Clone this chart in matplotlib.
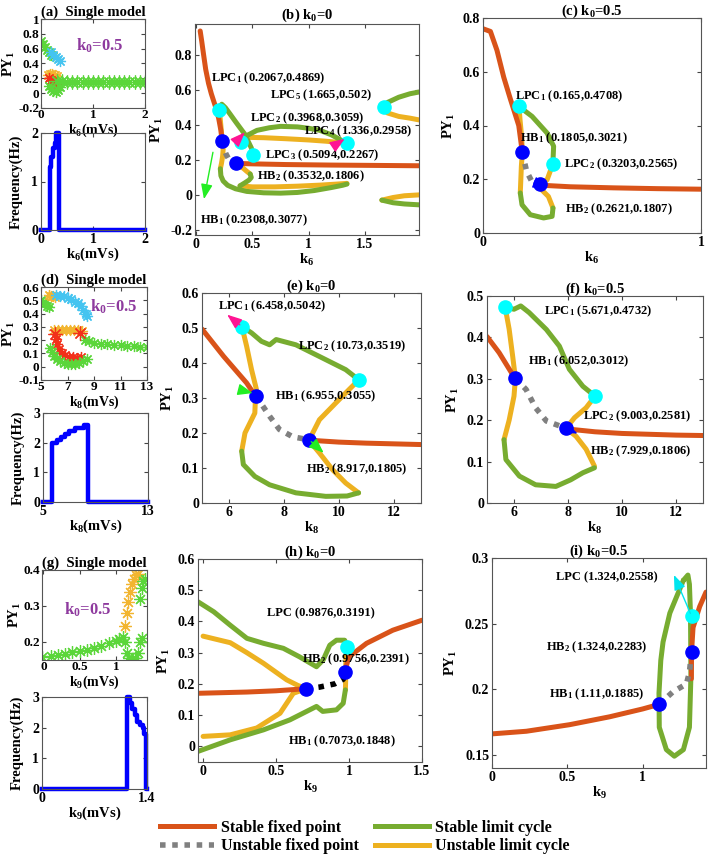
import matplotlib
matplotlib.use('Agg')
import matplotlib.pyplot as plt
from matplotlib.lines import Line2D

plt.rcParams['font.family'] = ['Liberation Serif', 'DejaVu Serif']
plt.rcParams['font.weight'] = 'bold'
plt.rcParams['mathtext.fontset'] = 'custom'
plt.rcParams['mathtext.rm'] = 'Liberation Serif:bold'
plt.rcParams['mathtext.it'] = 'Liberation Serif:bold'
plt.rcParams['mathtext.bf'] = 'Liberation Serif:bold'
plt.rcParams['axes.labelweight'] = 'bold'
plt.rcParams['axes.titleweight'] = 'bold'

SFP = '#D95319'   # stable fixed point
SLC = '#77AC30'   # stable limit cycle
ULC = '#EDB120'   # unstable limit cycle
UFP = '#808080'   # unstable fixed point
PURPLE = '#8E3A9E'
S_GRN, S_CYN, S_YEL, S_RED = '#5BD63A', '#45C4F0', '#F2B530', '#F2301A'

# ---------------------------------------------------------------- (a) single model, k6
a_grn_up = ([0.0, 0.04, 0.08, 0.12, 0.16, 0.2, 0.24], [0.70, 0.66, 0.62, 0.58, 0.55, 0.52, 0.50])
a_cyan = ([0.2, 0.24, 0.28, 0.32, 0.36], [0.56, 0.52, 0.49, 0.46, 0.44])
a_yel = ([0.14, 0.18, 0.22, 0.26, 0.3], [0.24, 0.26, 0.26, 0.25, 0.23])
a_red = ([0.15, 0.19, 0.23, 0.27, 0.31], [0.20, 0.18, 0.16, 0.14, 0.12])
a_grn_low = ([0.16, 0.2, 0.24, 0.28, 0.32, 0.36], [0.10, 0.06, 0.03, 0.02, 0.04, 0.08])
a_band_x = [0.3, 0.4, 0.5, 0.6, 0.7, 0.8, 0.9, 1.0, 1.1, 1.2, 1.3, 1.4, 1.5, 1.6, 1.7, 1.8, 1.9, 2.0]
a_band_y = [0.16, 0.16, 0.155, 0.155, 0.155, 0.15, 0.15, 0.15, 0.15, 0.15, 0.15, 0.145, 0.145, 0.145, 0.145, 0.145, 0.145, 0.145]
a_freq_k = [0, 0.17, 0.2, 0.23, 0.26, 0.28, 0.34, 2.0]
a_freq = [0, 1.3, 1.5, 1.7, 1.8, 2.0, 0, 0]

# ---------------------------------------------------------------- (b) k0=0, k6
b_sfp_1 = ([0.036, 0.05, 0.065, 0.085, 0.11, 0.135, 0.155, 0.18, 0.2, 0.22, 0.2308],
           [0.94, 0.88, 0.81, 0.72, 0.64, 0.58, 0.54, 0.49, 0.44, 0.37, 0.3077])
b_sfp_2 = ([0.3532, 0.5, 0.8, 1.2, 1.6, 1.98], [0.1806, 0.178, 0.174, 0.171, 0.169, 0.167])
b_ufp = ([0.2308, 0.245, 0.265, 0.29, 0.32, 0.3532], [0.3077, 0.27, 0.235, 0.205, 0.188, 0.1806])
b_ulc = [
    ([0.2067, 0.215, 0.225, 0.2308], [0.4869, 0.43, 0.36, 0.3077]),
    ([0.2308, 0.24, 0.235, 0.225, 0.215], [0.3077, 0.26, 0.22, 0.18, 0.15]),
    ([0.39, 0.5, 0.7, 0.9, 1.1, 1.25, 1.34], [0.052, 0.046, 0.046, 0.05, 0.056, 0.062, 0.066]),
    ([0.3532, 0.38, 0.42, 0.45, 0.48], [0.1806, 0.168, 0.152, 0.135, 0.12]),
    ([0.3968, 0.45, 0.6, 0.8, 1.0, 1.15, 1.25, 1.336], [0.3059, 0.33, 0.328, 0.322, 0.315, 0.308, 0.302, 0.2958]),
    ([1.665, 1.7, 1.8, 1.9, 1.98], [0.502, 0.47, 0.45, 0.44, 0.43]),
    ([1.65, 1.75, 1.85, 1.98], [-0.03, -0.015, -0.005, 0.0]),
]
b_slc = [
    ([0.2067, 0.215, 0.228, 0.26, 0.3, 0.35, 0.39, 0.43, 0.46, 0.49, 0.5094],
     [0.4869, 0.51, 0.52, 0.5, 0.465, 0.42, 0.385, 0.35, 0.31, 0.27, 0.2267]),
    ([0.215, 0.22, 0.24, 0.28, 0.35, 0.45, 0.6, 0.75, 0.9, 1.05, 1.2, 1.3, 1.34],
     [0.15, 0.11, 0.08, 0.055, 0.035, 0.02, 0.012, 0.01, 0.014, 0.025, 0.042, 0.055, 0.062]),
    ([0.48, 0.49, 0.47, 0.43, 0.39], [0.12, 0.1, 0.085, 0.068, 0.052]),
    ([0.3968, 0.45, 0.54, 0.65, 0.75, 0.9, 1.0, 1.1, 1.2, 1.3, 1.336],
     [0.3059, 0.34, 0.37, 0.385, 0.393, 0.39, 0.382, 0.37, 0.345, 0.31, 0.2958]),
    ([1.665, 1.7, 1.8, 1.9, 1.98], [0.502, 0.53, 0.56, 0.58, 0.59]),
    ([1.65, 1.75, 1.85, 1.98], [-0.03, -0.045, -0.052, -0.057]),
]
b_hb = ([0.2308, 0.3532], [0.3077, 0.1806])
b_lpc = ([0.2067, 0.3968, 0.5094, 1.336, 1.665], [0.4869, 0.3059, 0.2267, 0.2958, 0.502])
b_labels = [('LPC$_1$ (0.2067,0.4869)', 0.13, 0.667), ('LPC$_5$ (1.665,0.502)', 0.657, 0.571),
            ('LPC$_2$ (0.3968,0.3059)', 0.479, 0.438), ('LPC$_4$ (1.336,0.2958)', 0.959, 0.362),
            ('LPC$_3$ (0.5094,0.2267)', 0.612, 0.229), ('HB$_2$ (0.3532,0.1806)', 0.538, 0.105),
            ('HB$_1$ (0.2308,0.3077)', 0.036, -0.143)]

# ---------------------------------------------------------------- (c) k0=0.5, k6
c_sfp_1 = ([0, 0.034, 0.064, 0.095, 0.125, 0.164, 0.18], [0.76, 0.75, 0.68, 0.58, 0.5, 0.40, 0.3021])
c_sfp_2 = ([0.2621, 0.4, 0.6, 0.8, 1.0], [0.178, 0.172, 0.168, 0.165, 0.163])
c_ufp = ([0.1805, 0.19, 0.2, 0.225, 0.2621], [0.3021, 0.265, 0.23, 0.19, 0.1807])
c_ulc = [
    ([0.165, 0.17, 0.177, 0.1805, 0.176, 0.171], [0.4708, 0.42, 0.36, 0.3021, 0.248, 0.149]),
    ([0.321, 0.30, 0.27, 0.2621], [0.093, 0.136, 0.16, 0.1807]),
    ([0.2621, 0.294, 0.3203], [0.1807, 0.198, 0.2565]),
]
c_slc = [
    ([0.171, 0.179, 0.217, 0.278, 0.317, 0.321], [0.149, 0.105, 0.068, 0.056, 0.062, 0.093]),
    ([0.3203, 0.324, 0.294, 0.225, 0.165], [0.2565, 0.323, 0.372, 0.434, 0.4708]),
]
c_hb = ([0.1805, 0.2621], [0.3021, 0.1807])
c_lpc = ([0.165, 0.3203], [0.4708, 0.2565])
c_labels = [('LPC$_1$ (0.165,0.4708)', 0.148, 0.509), ('HB$_1$ (0.1805,0.3021)', 0.171, 0.354),
            ('LPC$_2$ (0.3203,0.2565)', 0.37, 0.254), ('HB$_2$ (0.2621,0.1807)', 0.378, 0.087)]

# ---------------------------------------------------------------- (d) single model, k8
d_grn_up = ([5.0, 5.15, 5.3, 5.45, 5.6], [0.50, 0.49, 0.48, 0.46, 0.45])
d_yel_up = ([5.6, 5.75, 5.9, 6.05], [0.54, 0.535, 0.53, 0.525])
d_cyan = ([6.1, 6.4, 6.7, 7.0, 7.3, 7.6, 7.8, 8.0, 8.2, 8.4, 8.5], [0.54, 0.535, 0.53, 0.52, 0.51, 0.49, 0.48, 0.455, 0.43, 0.40, 0.38])
d_yel_mid = ([6.0, 6.3, 6.6, 6.9, 7.2, 7.5, 7.8, 8.1], [0.275, 0.28, 0.28, 0.28, 0.28, 0.28, 0.275, 0.27])
d_red_pts = ([6.05, 7.95], [0.245, 0.255])
d_red_low = ([6.1, 6.2, 6.35, 6.55, 6.8, 7.1, 7.4, 7.7, 8.0], [0.21, 0.17, 0.13, 0.10, 0.085, 0.075, 0.07, 0.068, 0.07])
d_grn_low = ([5.7, 5.85, 6.0, 6.2, 6.4, 6.7, 7.0, 7.3, 7.6, 7.9, 8.2, 8.5], [0.14, 0.11, 0.08, 0.06, 0.04, 0.03, 0.02, 0.02, 0.02, 0.03, 0.04, 0.06])
d_grn_right = ([8.3, 8.6, 9.0, 9.5, 10.0, 10.5, 11.0, 11.5, 12.0, 12.5, 13.0], [0.2, 0.19, 0.18, 0.172, 0.168, 0.164, 0.16, 0.158, 0.155, 0.152, 0.15])
d_freq_k = [5, 5.7, 6.1, 6.4, 6.7, 7.0, 7.4, 8.1, 8.4, 13]
d_freq = [0, 2.0, 2.1, 2.2, 2.3, 2.4, 2.5, 2.6, 0, 0]

# ---------------------------------------------------------------- (e) k0=0, k8
e_sfp_1 = ([5, 5.79, 6.63, 6.955], [0.497, 0.419, 0.343, 0.3055])
e_sfp_2 = ([8.917, 9.2, 10, 11, 12, 13], [0.1805, 0.178, 0.174, 0.171, 0.169, 0.167])
e_ufp = ([6.955, 7.11, 7.47, 7.83, 8.32, 8.917], [0.3055, 0.29, 0.248, 0.21, 0.189, 0.1805])
e_ulc = [
    ([6.458, 6.63, 6.81, 6.99, 6.955, 6.93, 6.57, 6.45], [0.5042, 0.448, 0.381, 0.324, 0.3055, 0.257, 0.2, 0.148]),
    ([10.72, 10.25, 9.77, 9.29, 8.99, 8.917], [0.029, 0.057, 0.095, 0.143, 0.171, 0.1805]),
    ([8.917, 9.29, 9.89, 10.37, 10.73], [0.1805, 0.238, 0.286, 0.324, 0.3519]),
]
e_slc = [
    ([6.45, 6.51, 6.93, 7.47, 8.43, 9.52, 10.3, 10.72], [0.148, 0.11, 0.076, 0.052, 0.029, 0.019, 0.02, 0.029]),
    ([10.73, 10.25, 9.28, 8.43, 7.71, 7.47, 7.17, 6.81, 6.458], [0.3519, 0.381, 0.419, 0.452, 0.467, 0.452, 0.462, 0.486, 0.5042]),
]
e_hb = ([6.955, 8.917], [0.3055, 0.1805])
e_lpc = ([6.458, 10.73], [0.5042, 0.3519])
e_labels = [('LPC$_1$ (6.458,0.5042)', 5.6, 0.562), ('LPC$_2$ (10.73,0.3519)', 8.5, 0.448),
            ('HB$_1$ (6.955,0.3055)', 7.65, 0.305), ('HB$_2$ (8.917,0.1805)', 8.8, 0.095)]

# ---------------------------------------------------------------- (f) k0=0.5, k8
f_sfp_1 = ([5, 5.45, 5.95, 6.052], [0.402, 0.363, 0.31, 0.3012])
f_sfp_2 = ([7.929, 8.1, 9, 10, 11, 12, 13], [0.1806, 0.178, 0.172, 0.168, 0.166, 0.164, 0.163])
f_ufp = ([6.052, 6.45, 6.8, 7.2, 7.7, 7.929], [0.3012, 0.274, 0.23, 0.198, 0.186, 0.1806])
f_ulc = [
    ([5.671, 5.82, 5.95, 6.052, 6.0, 5.82, 5.63], [0.4732, 0.42, 0.355, 0.3012, 0.258, 0.2, 0.153]),
    ([8.98, 8.67, 8.3, 7.929], [0.089, 0.13, 0.161, 0.1806]),
    ([7.929, 8.24, 8.67, 9.003], [0.1806, 0.206, 0.23, 0.2581]),
]
f_slc = [
    ([5.63, 5.7, 6.2, 6.8, 7.55, 8.1, 8.55, 8.98], [0.153, 0.105, 0.065, 0.044, 0.04, 0.056, 0.073, 0.085]),
    ([9.003, 8.55, 8.05, 7.68, 7.2, 6.56, 6.25, 6.0, 5.671], [0.2581, 0.282, 0.323, 0.379, 0.419, 0.46, 0.476, 0.468, 0.4732]),
]
f_hb = ([6.052, 7.929], [0.3012, 0.1806])
f_lpc = ([5.671, 9.003], [0.4732, 0.2581])
f_labels = [('LPC$_1$ (5.671,0.4732)', 7.1, 0.464), ('HB$_1$ (6.052,0.3012)', 6.5, 0.343),
            ('LPC$_2$ (9.003,0.2581)', 8.55, 0.21), ('HB$_2$ (7.929,0.1806)', 8.8, 0.125)]

# ---------------------------------------------------------------- (g) single model, k9
g_grn = ([-0.02, 0.1, 0.2, 0.3, 0.4, 0.5, 0.6, 0.7, 0.8, 0.9, 1.0, 1.05, 1.1],
         [0.158, 0.161, 0.164, 0.167, 0.171, 0.175, 0.179, 0.184, 0.19, 0.196, 0.204, 0.209, 0.215])
g_grn_dip = ([1.12, 1.15, 1.18, 1.22, 1.27, 1.3, 1.33, 1.36], [0.2, 0.17, 0.155, 0.152, 0.155, 0.17, 0.2, 0.21])
g_yel = ([1.13, 1.15, 1.17, 1.19, 1.22, 1.25, 1.28, 1.31], [0.245, 0.28, 0.31, 0.34, 0.36, 0.375, 0.385, 0.39])
g_grn_up = ([1.34, 1.36, 1.38, 1.4], [0.32, 0.35, 0.37, 0.375])
g_freq_k = [0, 1.14, 1.17, 1.2, 1.24, 1.27, 1.31, 1.34, 1.36, 1.38, 1.4]
g_freq = [0, 3.0, 2.8, 2.6, 2.4, 2.2, 2.1, 2.0, 1.8, 0, 0]

# ---------------------------------------------------------------- (h) k0=0, k9
h_sfp_1 = ([-0.035, 0.3, 0.5, 0.7073], [0.17, 0.174, 0.178, 0.1848])
h_sfp_2 = ([0.9756, 0.98, 1.0, 1.12, 1.3, 1.5], [0.2391, 0.255, 0.287, 0.33, 0.372, 0.404])
h_ufp = ([0.7073, 0.8, 0.9, 0.96, 0.9756], [0.1848, 0.19, 0.2, 0.215, 0.2391])
h_ulc = [
    ([0, 0.186, 0.3, 0.414, 0.573, 0.65, 0.7073], [0.353, 0.332, 0.3, 0.266, 0.213, 0.195, 0.1848]),
    ([0.7073, 0.618, 0.527, 0.368, 0.186, 0], [0.1848, 0.17, 0.106, 0.059, 0.037, 0.032]),
    ([0.975, 0.977, 0.9756, 0.98, 0.9876], [0.181, 0.213, 0.2391, 0.29, 0.3191]),
]
h_slc = [
    ([-0.035, 0.073, 0.186, 0.3, 0.414, 0.55, 0.66, 0.777, 0.823, 0.868, 0.914, 0.97, 0.9876],
     [0.463, 0.431, 0.388, 0.346, 0.33, 0.314, 0.287, 0.255, 0.277, 0.324, 0.34, 0.34, 0.3191]),
    ([-0.035, 0.186, 0.414, 0.595, 0.777, 0.82, 0.914, 0.96, 0.975],
     [-0.016, 0.021, 0.053, 0.085, 0.128, 0.112, 0.117, 0.138, 0.181]),
]
h_hb = ([0.7073, 0.9756], [0.1848, 0.2391])
h_lpc = ([0.9876], [0.3191])
h_labels = [('LPC (0.9876,0.3191)', 0.436, 0.426), ('HB$_2$ (0.9756,0.2391)', 0.675, 0.28),
            ('HB$_1$ (0.7073,0.1848)', 0.584, 0.016)]

# ---------------------------------------------------------------- (i) k0=0.5, k9
i_sfp_1 = ([0, 0.228, 0.515, 0.78, 1.0, 1.11], [0.166, 0.168, 0.173, 0.179, 0.185, 0.1885])
i_sfp_2 = ([1.323, 1.324, 1.334, 1.378, 1.42], [0.208, 0.2283, 0.247, 0.263, 0.274])
i_ufp = ([1.11, 1.2, 1.29, 1.31, 1.324], [0.1885, 0.198, 0.204, 0.213, 0.2283])
i_slc = ([1.27, 1.3, 1.31, 1.317, 1.32, 1.31, 1.27, 1.21, 1.157, 1.11, 1.108, 1.12, 1.135, 1.18, 1.27],
         [0.283, 0.287, 0.28, 0.258, 0.21, 0.171, 0.154, 0.149, 0.154, 0.171, 0.197, 0.222, 0.236, 0.258, 0.283])
i_hb = ([1.11, 1.324], [0.1885, 0.2283])
i_lpc = ([1.324], [0.2558])
i_labels = [('LPC (1.324,0.2558)', 0.427, 0.285), ('HB$_2$ (1.324,0.2283)', 0.36, 0.232),
            ('HB$_1$ (1.11,0.1885)', 0.378, 0.196)]


def fmt(ax, xlim, ylim, xt, yt, pad=2, size=10):
    ax.set_xlim(*xlim)
    ax.set_ylim(*ylim)
    ax.set_xticks(xt, labels=[f'{v:g}' for v in xt])
    ax.set_yticks(yt, labels=[f'{v:g}' for v in yt])
    ax.tick_params(direction='in', top=True, right=True, labelsize=size, length=3, pad=pad, color='#444444')
    for s in ax.spines.values():
        s.set_color('#555555')
        s.set_linewidth(0.8)


def line(ax, xy, c, lw=3.6):
    ax.plot(xy[0], xy[1], color=c, lw=lw, solid_capstyle='round', solid_joinstyle='round')


def dots(ax, xy, c=UFP):
    ax.plot(xy[0], xy[1], color=c, lw=4, linestyle=(0, (1, 1.2)), dash_capstyle='butt')


def bif(ax, sfp, ufp, ulc, slc, hb, lpc, labels, ufp_c=UFP):
    for s in ulc:
        line(ax, s, ULC)
    for s in slc:
        line(ax, s, SLC)
    for s in sfp:
        line(ax, s, SFP)
    dots(ax, ufp, ufp_c)
    ax.plot(hb[0], hb[1], 'o', color='#0000FF', ms=9.5, zorder=5)
    ax.plot(lpc[0], lpc[1], 'o', color='#00FFFF', ms=9.5, zorder=5)
    for txt, x, y in labels:
        ax.text(x, y, txt, fontsize=9, va='center', zorder=6)


def arrow(ax, tail, head, c):
    ax.annotate('', xy=head, xytext=tail, zorder=7,
                arrowprops=dict(arrowstyle='-|>,head_length=0.9,head_width=0.35', color=c, lw=1.0))


def stars(ax, xy, c, ms=8):
    ax.plot(xy[0], xy[1], linestyle='none', marker=(8, 2, 0), color=c, ms=ms, mew=0.9)


fig = plt.figure(figsize=(7.08, 8.58), dpi=100)
W, H = 708, 858


def box(x0, y0, x1, y1):
    return fig.add_axes([x0 / W, 1 - y1 / H, (x1 - x0) / W, (y1 - y0) / H])


def freq_box(x0, y0, x1, y1):
    a = box(x0, y0, x1, y1)
    a.patch.set_alpha(0)
    return a


# row 1
ax = box(41, 19, 145, 108)
for xy, c in [(a_grn_up, S_GRN), (a_cyan, S_CYN), (a_yel, S_YEL), (a_red, S_RED), (a_grn_low, S_GRN)]:
    stars(ax, xy, c)
stars(ax, (a_band_x, a_band_y), S_GRN, ms=10)
ax.text(0.68, 0.64, 'k$_0$=0.5', color=PURPLE, fontsize=12, va='center')
fmt(ax, (0, 2), (-0.2, 1), [0, 1, 2], [-0.2, 0, 0.2, 0.4, 0.6, 0.8, 1], pad=1, size=9.5)
ax.set_title('(a)  Single model', fontsize=10.5, pad=2)
ax.set_ylabel('PY$_1$', fontsize=10.5, labelpad=1)
ax.set_xlabel('k$_6$(mVs)', fontsize=10, labelpad=0)

ax = freq_box(41, 133, 145, 230)
ax.plot(a_freq_k, a_freq, drawstyle='steps-post', color='#0000FF', lw=3.2, clip_on=False)
fmt(ax, (0, 2), (0, 2), [0, 1, 2], [0, 1, 2])
ax.set_ylabel('Frequency(Hz)', fontsize=10.5, labelpad=6)
ax.set_xlabel('k$_6$(mVs)', fontsize=10.5, labelpad=0)

ax = box(195, 24, 419, 235)
bif(ax, [b_sfp_1, b_sfp_2], b_ufp, b_ulc, b_slc, b_hb, b_lpc, b_labels)
arrow(ax, (0.154, 0.26), (0.065, -0.04), '#22EE22')
arrow(ax, (0.36, 0.31), (0.45, 0.37), '#FF1493')
arrow(ax, (1.2, 0.27), (1.34, 0.33), '#FF1493')
fmt(ax, (-0.01, 1.98), (-0.23, 0.98), [0, 0.5, 1, 1.5], [-0.2, 0, 0.2, 0.4, 0.6, 0.8])
ax.set_title('(b) k$_0$=0', fontsize=10.5, pad=4)
ax.set_ylabel('PY$_1$', fontsize=10.5)
ax.set_xlabel('k$_6$', fontsize=10.5, labelpad=1)

ax = box(483, 18, 701, 233)
bif(ax, [c_sfp_1, c_sfp_2], c_ufp, c_ulc, c_slc, c_hb, c_lpc, c_labels)
arrow(ax, (0.23, 0.19), (0.31, 0.165), '#0000FF')
fmt(ax, (0, 1), (0, 0.8), [0, 1], [0, 0.2, 0.4, 0.6, 0.8])
ax.set_title('(c) k$_0$=0.5', fontsize=10.5, pad=2)
ax.set_ylabel('PY$_1$', fontsize=10.5)
ax.set_xlabel('k$_6$', fontsize=10.5, labelpad=1)

# row 2
ax = box(41, 287, 147, 380)
for xy, c in [(d_grn_up, S_GRN), (d_yel_up, S_YEL), (d_cyan, S_CYN), (d_yel_mid, S_YEL),
              (d_red_low, S_RED), (d_grn_low, S_GRN), (d_grn_right, S_GRN)]:
    stars(ax, xy, c)
stars(ax, d_red_pts, S_RED, ms=10)
ax.text(8.7, 0.45, 'k$_0$=0.5', color=PURPLE, fontsize=12, va='center')
fmt(ax, (5, 13), (-0.1, 0.6), [5, 7, 9, 11, 13], [-0.1, 0, 0.1, 0.2, 0.3, 0.4, 0.5, 0.6], pad=1, size=9.5)
ax.set_title('(d)  Single model', fontsize=10.5, pad=2)
ax.set_ylabel('PY$_1$', fontsize=10.5, labelpad=1)
ax.set_xlabel('k$_8$(mVs)', fontsize=10, labelpad=0)

ax = freq_box(43, 413, 148, 502)
ax.plot(d_freq_k, d_freq, drawstyle='steps-post', color='#0000FF', lw=3.2, clip_on=False)
fmt(ax, (5, 13), (0, 3), [5, 13], [0, 1, 2, 3])
ax.set_ylabel('Frequency(Hz)', fontsize=10.5, labelpad=6)
ax.set_xlabel('k$_8$(mVs)', fontsize=10.5, labelpad=0)

ax = box(202, 293, 421, 503)
bif(ax, [e_sfp_1, e_sfp_2], e_ufp, e_ulc, e_slc, e_hb, e_lpc, e_labels)
arrow(ax, (6.458, 0.5042), (5.84, 0.543), '#FF1493')
arrow(ax, (6.45, 0.322), (6.95, 0.312), '#22EE22')
arrow(ax, (8.917, 0.1805), (9.52, 0.138), '#22EE22')
fmt(ax, (5, 13), (0, 0.6), [6, 8, 10, 12], [0, 0.1, 0.2, 0.3, 0.4, 0.5, 0.6])
ax.set_title('(e) k$_0$=0', fontsize=10.5, pad=2)
ax.set_ylabel('PY$_1$', fontsize=10.5)
ax.set_xlabel('k$_8$', fontsize=10.5, labelpad=1)

ax = box(487, 296, 703, 503)
bif(ax, [f_sfp_1, f_sfp_2], f_ufp, f_ulc, f_slc, f_hb, f_lpc, f_labels)
arrow(ax, (7.93, 0.18), (8.45, 0.165), '#0000FF')
fmt(ax, (5, 13), (0, 0.5), [6, 8, 10, 12], [0, 0.1, 0.2, 0.3, 0.4, 0.5])
ax.set_title('(f) k$_0$=0.5', fontsize=10.5, pad=2)
ax.set_ylabel('PY$_1$', fontsize=10.5)
ax.set_xlabel('k$_8$', fontsize=10.5, labelpad=1)

# row 3
ax = box(42, 570, 147, 660)
for xy, c in [(g_grn, S_GRN), (g_grn_dip, S_GRN), (g_yel, S_YEL), (g_grn_up, S_GRN)]:
    stars(ax, xy, c, ms=9)
ax.text(0.28, 0.29, 'k$_0$=0.5', color=PURPLE, fontsize=12, va='center')
fmt(ax, (-0.02, 1.43), (0.15, 0.4), [0, 0.5, 1], [0.2, 0.3, 0.4], pad=1, size=9.5)
ax.set_title('(g)  Single model', fontsize=10.5, pad=2)
ax.set_ylabel('PY$_1$', fontsize=10.5, labelpad=1)
ax.set_xlabel('k$_9$(mVs)', fontsize=10, labelpad=0)

ax = freq_box(42, 697, 147, 789)
ax.plot(g_freq_k, g_freq, drawstyle='steps-post', color='#0000FF', lw=3.2, clip_on=False)
fmt(ax, (0, 1.4), (0, 3), [0, 1.4], [0, 1, 2, 3])
ax.set_ylabel('Frequency(Hz)', fontsize=10.5, labelpad=6)
ax.set_xlabel('k$_9$(mVs)', fontsize=10.5, labelpad=0)

ax = box(198, 559, 422, 762)
bif(ax, [h_sfp_1, h_sfp_2], h_ufp, h_ulc, h_slc, h_hb, h_lpc, h_labels, ufp_c='black')
fmt(ax, (-0.035, 1.5), (-0.05, 0.6), [0, 0.5, 1, 1.5], [0, 0.1, 0.2, 0.3, 0.4, 0.5, 0.6])
ax.set_title('(h) k$_0$=0', fontsize=10.5, pad=2)
ax.set_ylabel('PY$_1$', fontsize=10.5)
ax.set_xlabel('k$_9$', fontsize=10.5, labelpad=1)

ax = box(492, 558, 706, 768)
bif(ax, [i_sfp_1, i_sfp_2], i_ufp, [], [i_slc], i_hb, i_lpc, i_labels)
arrow(ax, (1.324, 0.2558), (1.2, 0.289), '#00E5EE')
fmt(ax, (0, 1.42), (0.14, 0.3), [0, 0.5, 1], [0.15, 0.2, 0.25, 0.3])
ax.set_title('(i) k$_0$=0.5', fontsize=10.5, pad=2)
ax.set_ylabel('PY$_1$', fontsize=10.5)
ax.set_xlabel('k$_9$', fontsize=10.5, labelpad=1)

handles = [Line2D([], [], color=SFP, lw=3.6),
           Line2D([], [], color=UFP, lw=4, linestyle=(0, (1, 1.2))),
           Line2D([], [], color=SLC, lw=3.6),
           Line2D([], [], color=ULC, lw=3.6)]
names = ['Stable fixed point', 'Unstable fixed point', 'Stable limit cycle', 'Unstable limit cycle']
fig.legend(handles, names, loc='upper left', bbox_to_anchor=(152 / W, 1 - 812 / H), ncol=2,
           frameon=False, fontsize=11.5, handlelength=3.4, labelspacing=0.15, columnspacing=1.0,
           handletextpad=0.4, borderpad=0)

fig.savefig('out.png', dpi=100)
